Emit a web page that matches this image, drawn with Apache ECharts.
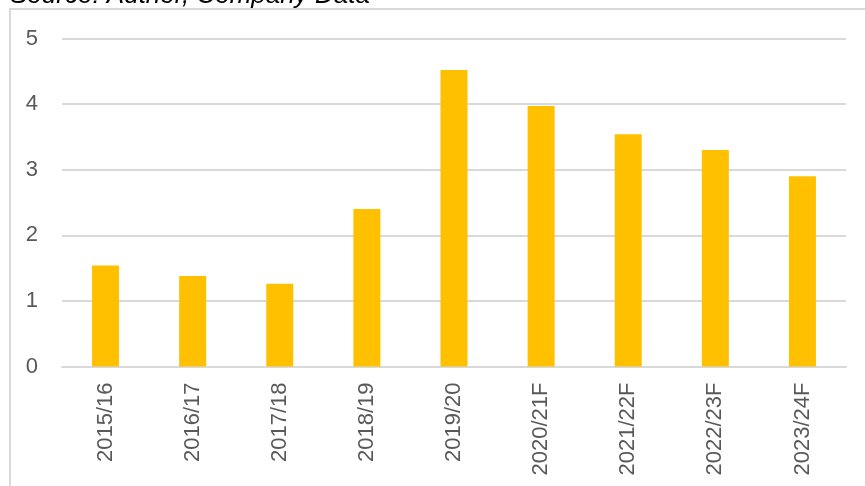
<!DOCTYPE html>
<html>
<head>
<meta charset="utf-8">
<script src="https://cdn.jsdelivr.net/npm/echarts@6/dist/echarts.min.js"></script>
<style>
  html, body { margin: 0; padding: 0; background: #ffffff; }
  #chart { width: 865px; height: 486px; }
</style>
</head>
<body>
<div id="chart"></div>
<script>
// Fiscal years (F = forecast)
const categories = ['2015/16', '2016/17', '2017/18', '2018/19', '2019/20', '2020/21F', '2021/22F', '2022/23F', '2023/24F'];
// Annual values
const values = [1.54, 1.38, 1.26, 2.40, 4.52, 3.97, 3.54, 3.30, 2.90];
// Value axis range
const yMin = 0;
const yMax = 5;
const yStep = 1;
const sourceNote = 'Source: Author, Company Data';

const chart = echarts.init(document.getElementById('chart'), null, { renderer: 'canvas' });

chart.setOption({
  animation: false,
  backgroundColor: '#ffffff',
  graphic: [
    {
      type: 'rect',
      shape: { x: 10, y: 9, width: 900, height: 520 },
      style: { fill: 'none', stroke: '#d9d9d9', lineWidth: 2 },
      z: 0
    },
    {
      type: 'text',
      left: 10,
      top: -17,
      z: 10,
      style: {
        text: sourceNote,
        font: 'italic 26px "Liberation Sans", Arial, sans-serif',
        fill: '#000000'
      }
    }
  ],
  grid: { left: 62, right: 19, top: 38.5, bottom: 119.5 },
  xAxis: {
    type: 'category',
    data: categories,
    axisLine: { show: true, lineStyle: { color: '#d9d9d9', width: 2 } },
    axisTick: { show: false },
    axisLabel: {
      rotate: 90,
      margin: 16,
      color: '#595959',
      fontSize: 22,
      fontFamily: '"Liberation Sans", Arial, sans-serif'
    }
  },
  yAxis: {
    type: 'value',
    min: yMin,
    max: yMax,
    interval: yStep,
    axisLine: { show: false },
    axisTick: { show: false },
    splitLine: { lineStyle: { color: '#d9d9d9', width: 2 } },
    axisLabel: {
      margin: 24,
      color: '#595959',
      fontSize: 22,
      fontFamily: '"Liberation Sans", Arial, sans-serif'
    }
  },
  series: [
    {
      type: 'bar',
      data: values,
      barWidth: 27,
      itemStyle: { color: '#FFC000' }
    }
  ]
});
</script>
</body>
</html>
